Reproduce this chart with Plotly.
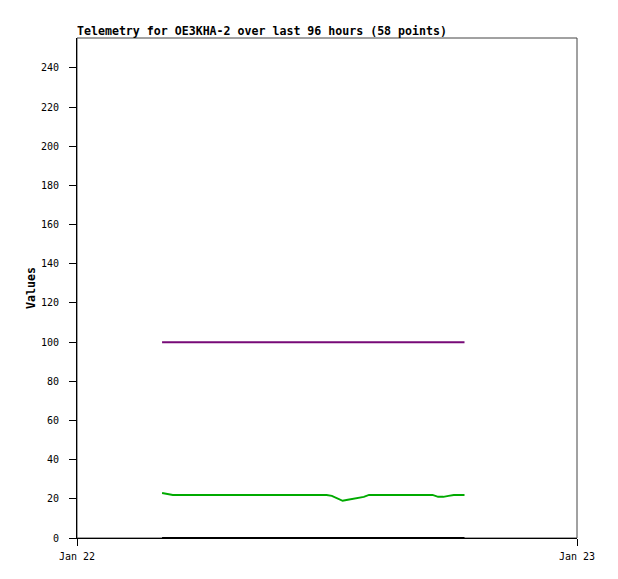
import plotly.graph_objects as go

DAY = "2020-01-22"
times = ["04:05", "04:20", "04:36", "04:51", "05:06", "05:21", "05:37", "05:52",
         "06:07", "06:23", "06:38", "06:53", "07:08", "07:24", "07:39", "07:54",
         "08:10", "08:25", "08:40", "08:55", "09:11", "09:26", "09:41", "09:56",
         "10:12", "10:27", "10:42", "10:58", "11:13", "11:28", "11:43", "11:59",
         "12:14", "12:29", "12:45", "13:00", "13:15", "13:30", "13:46", "14:01",
         "14:16", "14:32", "14:47", "15:02", "15:17", "15:33", "15:48", "16:03",
         "16:18", "16:34", "16:49", "17:04", "17:20", "17:35", "17:50", "18:05",
         "18:21", "18:36"]

green_vals = ([23, 22.5] + [22] * 30 + [21.5, 20.3, 19, 19.5, 20, 20.5, 21]
              + [22] * 13 + [21, 21, 21.5] + [22] * 3)
purple_vals = [100] * 58
black_vals = [0] * 58

x_tick_vals = ["2020-01-22 00:00", "2020-01-23 00:00"]
x_tick_text = ["Jan 22", "Jan 23"]
y_ticks = [0, 20, 40, 60, 80, 100, 120, 140, 160, 180, 200, 220, 240]

xs = [f"{DAY} {t}" for t in times]

FONT = "DejaVu Sans Mono"
W, H = 610, 571  # page body has an 8px margin

fig = go.Figure()
fig.add_trace(go.Scatter(x=xs, y=black_vals, mode="lines",
                         line=dict(color="#000000", width=2), showlegend=False))
fig.add_trace(go.Scatter(x=xs, y=purple_vals, mode="lines",
                         line=dict(color="#770a77", width=2), showlegend=False))
fig.add_trace(go.Scatter(x=xs, y=green_vals, mode="lines",
                         line=dict(color="#00aa00", width=2), showlegend=False))

fig.update_layout(
    width=W, height=H,
    margin=dict(l=69, r=41, t=30, b=41),
    paper_bgcolor="white", plot_bgcolor="white",
    font=dict(family=FONT, size=10, color="#000000"),
    title=dict(text="<b>Telemetry for OE3KHA-2 over last 96 hours (58 points)</b>",
               font=dict(family=FONT, size=11.6, color="#000000"),
               x=69 / W, xref="container", xanchor="left",
               y=1 - 23 / H, yref="container", yanchor="middle"),
    xaxis=dict(type="date", range=x_tick_vals, tickvals=x_tick_vals, ticktext=x_tick_text,
               showgrid=False, zeroline=False, showline=True, linecolor="#000000",
               linewidth=1, ticks="outside", ticklen=7, tickcolor="#000000",
               ticklabelstandoff=2,
               tickfont=dict(family=FONT, size=10)),
    yaxis=dict(range=[0, 255.3], tickvals=y_ticks, showgrid=False, zeroline=False,
               showline=True, linecolor="#000000", linewidth=1, ticks="outside",
               ticklen=7, tickcolor="#000000", ticklabelstandoff=8,
               tickfont=dict(family=FONT, size=10)),
    shapes=[dict(type="rect", xref="paper", yref="paper", x0=0, x1=1, y0=0, y1=1,
                 line=dict(color="#444444", width=1), layer="below")],
    annotations=[dict(text="<b>Values</b>", xref="paper", yref="paper",
                      x=(31 - 77) / 500, y=0.5, textangle=-90, showarrow=False,
                      xanchor="center", yanchor="middle",
                      font=dict(family=FONT, size=11.6, color="#000000"))],
)

fig.write_html("out.html")
